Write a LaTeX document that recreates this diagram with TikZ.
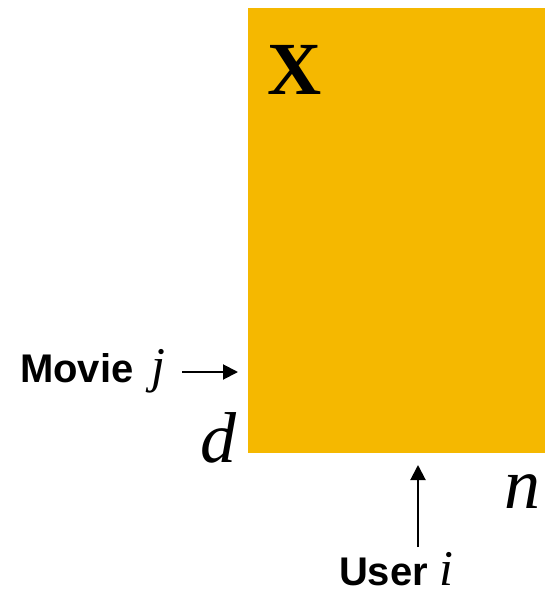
\documentclass[tikz,border=0pt]{standalone}
\usepackage{fontspec}
\setmainfont{Liberation Serif}
\setsansfont{Liberation Sans}
\usetikzlibrary{arrows.meta, positioning}

\definecolor{matyellow}{HTML}{F5B800}

\tikzset{
    arr/.style={-{Triangle[length=15pt, width=15pt]}, line width=2pt},
    axislabel/.style={font=\fontsize{40}{42}\selectfont\sffamily\bfseries},
    dimlabel/.style={font=\fontsize{72}{74}\selectfont\itshape},
}
\newcommand{\idx}[1]{{\fontsize{50}{52}\selectfont\rmfamily\mdseries\itshape #1}}

\begin{document}
\begin{tikzpicture}[x=1pt, y=-1pt, every node/.style={inner sep=0pt, outer sep=0pt}]
    \useasboundingbox (0,0) rectangle (545,594);

    % Data matrix
    \node[fill=matyellow, minimum width=297pt, minimum height=445pt, anchor=north west] (matX) at (248,8) {};
    \node[anchor=base west, font=\fontsize{75}{77}\selectfont\bfseries] (xname) at (267,94) {X};

    % Dimensions
    \node[dimlabel, anchor=base east] (dimd) at (236,462) {d};
    \node[dimlabel, anchor=base east] (dimn) at (540,508) {n};

    % Movie row
    \node[axislabel, anchor=base west] (movie) at (20,382) {Movie \kern7pt\idx{j}};
    \coordinate (moviefrom) at (182,372);
    \coordinate (movieto) at (238,372);
    \draw[arr] (moviefrom) -- (movieto);

    % User column
    \node[axislabel, anchor=base west] (user) at (339,585) {User \idx{i}};
    \coordinate (userfrom) at (418,547);
    \coordinate (userto) at (418,465);
    \draw[arr] (userfrom) -- (userto);

\end{tikzpicture}
\end{document}
